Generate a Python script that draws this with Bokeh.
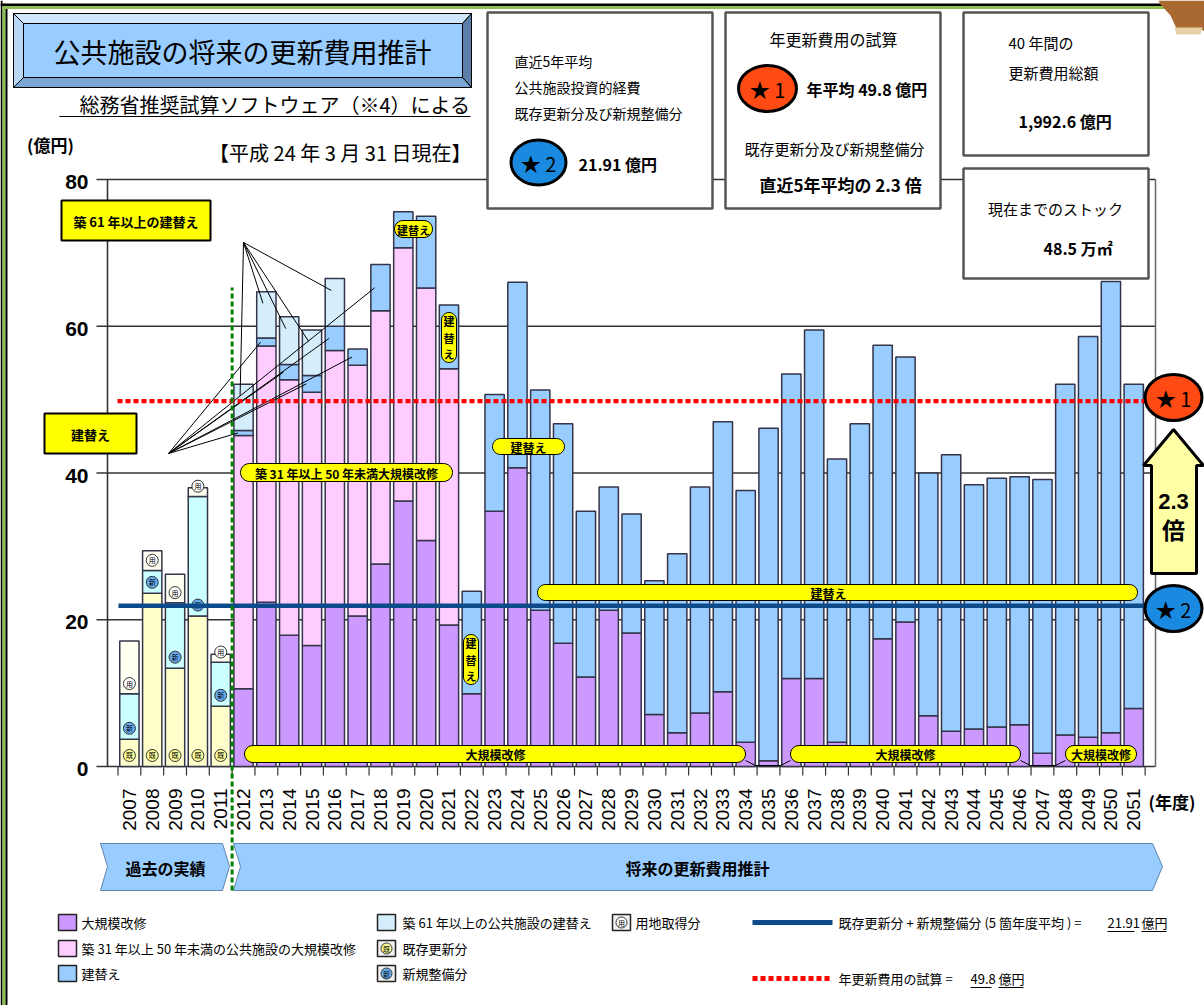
from math import cos, sin, radians, pi
import numpy as np
from bokeh.plotting import figure
from bokeh.models import Range1d
from bokeh.core.properties import value
from bokeh.embed import file_html
from bokeh.resources import INLINE

# ---------------- data (億円) ----------------
past_years = [2007, 2008, 2009, 2010, 2011]
past_existing = [3.7, 23.6, 13.4, 20.5, 8.2]      # 既存更新分
past_new = [6.2, 3.1, 8.9, 16.3, 6.0]             # 新規整備分
past_land = [7.2, 2.7, 3.9, 1.2, 1.1]             # 用地取得分

future_years = list(range(2012, 2052))
major_repair = [10.6, 22.4, 17.9, 16.5, 22.0, 20.5, 27.6, 36.2, 30.8, 19.3,
                9.9, 34.8, 40.7, 21.3, 16.8, 12.2, 21.3, 18.2, 7.1, 4.6,
                7.3, 10.2, 3.3, 0.8, 12.0, 12.0, 3.3, 1.5, 17.4, 19.7,
                6.9, 4.8, 5.1, 5.4, 5.7, 1.8, 4.3, 4.0, 4.6, 7.9]      # 大規模改修
repair_31_50 = [34.5, 34.9, 34.8, 34.5, 34.7, 34.2, 34.5, 34.5, 34.4, 34.9] + [0.0] * 30  # 築31年以上50年未満
rebuild = [0.7, 1.1, 2.1, 2.3, 3.3, 2.2, 6.3, 4.9, 9.8, 8.7,
           14.0, 15.9, 25.3, 30.0, 29.9, 22.6, 16.8, 16.2, 18.2, 24.4,
           30.8, 36.8, 34.3, 45.3, 41.5, 47.5, 38.6, 45.2, 40.0, 36.1,
           33.1, 37.7, 33.3, 33.9, 33.8, 37.3, 47.8, 54.6, 61.5, 44.2]   # 建替え
rebuild_61 = [6.3, 6.3, 6.5, 6.2, 6.5] + [0.0] * 35                      # 築61年以上の建替え

avg_annual = 49.8       # ★1 年更新費用の試算
recent_avg = 21.91      # ★2 直近5年平均
y_ticks = [0, 20, 40, 60, 80]

# ---------------- layout helpers ----------------
W, H = 1204, 1005
Y0_PX, PX_PER_UNIT = 766.0, 7.3375
X0_PX, PX_PER_YEAR = 128.9, 22.826
JP = "Noto Sans CJK JP"
NUM = "Liberation Sans"


def vy(ypx):
    return (Y0_PX - ypx) / PX_PER_UNIT


def yx(xpx):
    return 2007 + (xpx - X0_PX) / PX_PER_YEAR


def R(ypx):
    return H - ypx


p = figure(width=W, height=H, output_backend="svg", toolbar_location=None,
           x_range=Range1d(yx(0), yx(W)), y_range=Range1d(vy(H), vy(0)),
           x_axis_type=None, y_axis_type=None, min_border=0,
           outline_line_color=None)
p.extra_x_ranges = {"px": Range1d(0, W)}
p.extra_y_ranges = {"py": Range1d(0, H)}
p.background_fill_color = "white"
p.border_fill_color = "white"
PXK = dict(x_range_name="px", y_range_name="py")


def rect_px(x0, y0, x1, y1, fill, line="black", lw=1.0):
    p.quad(left=[x0], right=[x1], top=[R(y0)], bottom=[R(y1)],
           fill_color=fill, line_color=line, line_width=lw, **PXK)


def poly_px(pts, fill, line="black", lw=1.0):
    p.patch([q[0] for q in pts], [R(q[1]) for q in pts],
            fill_color=fill, line_color=line, line_width=lw, **PXK)


def line_px(xs, ys, color="black", lw=1.0, dash="solid"):
    p.line(xs, [R(y) for y in ys], line_color=color, line_width=lw,
           line_dash=dash, **PXK)


def text_px(x, y, s, size, bold=False, align="left", color="black", font=JP):
    p.text(x=[x], y=[R(y)], text=[s], text_font=value(font),
           text_font_size=f"{size}px",
           text_font_style="bold" if bold else "normal",
           text_align=align, text_baseline="middle", text_color=color, **PXK)


def ellipse_px(cx, cy, w, h, fill, line="black", lw=3):
    p.ellipse(x=[cx], y=[R(cy)], width=w, height=h, fill_color=fill,
              line_color=line, line_width=lw, **PXK)


def rrect_pts(x0, y0, x1, y1, r):
    pts = []
    for cx, cy, a0 in [(x1 - r, y0 + r, -90), (x1 - r, y1 - r, 0),
                       (x0 + r, y1 - r, 90), (x0 + r, y0 + r, 180)]:
        for k in range(7):
            a = radians(a0 + k * 15)
            pts.append((cx + r * cos(a), cy + r * sin(a)))
    return pts


def pill(x0, y0, x1, y1, label, size=12, tx=None):
    r = (y1 - y0) / 2
    poly_px(rrect_pts(x0, y0, x1, y1, r), "#ffff00", "black", 1)
    text_px((x0 + x1) / 2 if tx is None else tx, (y0 + y1) / 2 + 0.5, label, size,
            bold=True, align="center")


def vpill(x0, y0, x1, y1, chars, size=11):
    r = (x1 - x0) / 2
    poly_px(rrect_pts(x0, y0, x1, y1, r), "#ffff00", "black", 1)
    step = (y1 - y0) / len(chars)
    for i, ch in enumerate(chars):
        text_px((x0 + x1) / 2, y0 + step * (i + 0.5), ch, size, bold=True, align="center")


# ---------------- axes / grid ----------------
for t in y_ticks:
    p.segment(x0=[yx(96)], x1=[yx(1155)], y0=[t], y1=[t], line_color="#333333", line_width=1.6)
    p.text(x=[yx(88)], y=[t - 0.35], text=[str(t)], text_font=value(NUM),
           text_font_size="21px", text_font_style="bold", text_align="right",
           text_baseline="middle", text_color="black")
p.segment(x0=[yx(107)], x1=[yx(107)], y0=[0], y1=[80], line_color="#333333", line_width=1.6)
p.segment(x0=[yx(1155)], x1=[yx(1155)], y0=[0], y1=[80], line_color="#666666", line_width=1.5)
bounds = [y - 0.5 for y in range(2007, 2053)]
p.segment(x0=bounds, x1=bounds, y0=[0] * len(bounds), y1=[vy(775)] * len(bounds),
          line_color="#333333", line_width=1.2)

# ---------------- bars ----------------
BW = 0.845
OUT = "#34344a"
pe = np.array(past_existing)
pn = np.array(past_new)
pl = np.array(past_land)
p.vbar(x=past_years, width=BW, bottom=0, top=pe, fill_color="#ffffcc", line_color=OUT, line_width=1.5)
p.vbar(x=past_years, width=BW, bottom=pe, top=pe + pn, fill_color="#ccffff", line_color=OUT, line_width=1.5)
p.vbar(x=past_years, width=BW, bottom=pe + pn, top=pe + pn + pl, fill_color="#fffff2", line_color=OUT, line_width=1.5)

fy = np.array(future_years)
s1 = np.array(major_repair)
s2 = np.array(repair_31_50)
s3 = np.array(rebuild)
s4 = np.array(rebuild_61)
layers = [(np.zeros_like(s1), s1, "#cc99ff"),
          (s1, s1 + s2, "#ffccff"),
          (s1 + s2, s1 + s2 + s3, "#99ccff"),
          (s1 + s2 + s3, s1 + s2 + s3 + s4, "#d4eefc")]
for bot, top, col in layers:
    m = (top - bot) > 0.01
    p.vbar(x=fy[m], width=BW, bottom=bot[m], top=top[m], fill_color=col,
           line_color=OUT, line_width=1.5)

# circled icons on past bars
icon_specs = [(np.full(5, 1.5), "既", "#ffff99"),
              (pe + 1.5, "新", "#66aaee"),
              (pe + pn + 1.4, "用", "#ffffff")]
for ys, ch, col in icon_specs:
    p.scatter(x=past_years, y=ys, marker="circle", size=12, fill_color=col,
              line_color="#333333", line_width=1)
    p.text(x=past_years, y=ys, text=[ch] * 5, text_font=value(JP), text_font_size="7px",
           text_align="center", text_baseline="middle", text_color="black")

# ---------------- callout lines ----------------
ox1, oy1 = yx(243), vy(242)
for i in range(5):
    ex = future_years[i] - 0.15
    ey = (s1 + s2 + s3)[i] + 0.75 * s4[i]
    p.segment(x0=[ox1], y0=[oy1], x1=[ex], y1=[ey], line_color="black", line_width=1)
ox2, oy2 = yx(168), vy(453)
for i in range(7):
    ex = future_years[i] - 0.25
    ey = (s1 + s2)[i] + 0.5 * s3[i]
    p.segment(x0=[ox2], y0=[oy2], x1=[ex], y1=[ey], line_color="black", line_width=1)

# ---------------- reference lines ----------------
p.line([yx(118), yx(1148)], [recent_avg, recent_avg], line_color="#0d4a8a", line_width=4.5)
p.line([yx(117), yx(1148)], [avg_annual, avg_annual], line_color="#ff0000", line_width=4.3, line_dash="5 3")

# ---------------- yellow labels ----------------
rect_px(61, 200, 210, 240, "#ffff00", "black", 2)
text_px(135.5, 220.5, "築 61 年以上の建替え", 13, bold=True, align="center")
rect_px(44, 413, 136, 453, "#ffff00", "black", 2)
text_px(90, 433.5, "建替え", 13, bold=True, align="center")

pill(240, 463, 452, 481, "築 31 年以上 50 年未満大規模改修", 12)
line_px([745, 755, 780, 790], [760, 765, 765, 760], "black", 1)
line_px([1020, 1030, 1055, 1065], [760, 765, 765, 760], "black", 1)
pill(244, 745, 745, 762, "大規模改修", 12, tx=495)
pill(790, 745, 1020, 762, "大規模改修", 12, tx=905)
pill(1065, 745, 1136, 762, "大規模改修", 12)
pill(537, 584, 1137, 600, "建替え", 12, tx=828)
pill(492, 438, 564, 454, "建替え", 12)
pill(394, 220, 432, 237, "建替え", 11)
vpill(441, 312, 456, 362, ["建", "替", "え"], 11)
vpill(463, 634, 478, 684, ["建", "替", "え"], 11)

# ---------------- right side markers ----------------
poly_px([(1173, 429), (1203, 465), (1196, 465), (1196, 573), (1151, 573), (1151, 465), (1143, 465)],
        "#ffffa6", "black", 3)
text_px(1173, 501, "2.3", 22, bold=True, align="center", font="Liberation Sans")
text_px(1173, 528, "倍", 23, bold=True, align="center")
ellipse_px(1173, 397, 57, 46, "#ff4a14")
text_px(1173, 398, "★ 1", 20, align="center")
ellipse_px(1173, 608, 57, 46, "#1a8ae0")
text_px(1173, 609, "★ 2", 20, align="center")

# ---------------- title area ----------------
poly_px([(13, 13), (471, 13), (462, 23), (23, 23)], "#cfe6fd", "black", 1)
poly_px([(13, 13), (23, 23), (23, 77), (13, 87)], "#b8d8f6", "black", 1)
poly_px([(471, 13), (471, 87), (462, 77), (462, 23)], "#5b7fa8", "black", 1)
poly_px([(13, 87), (471, 87), (462, 77), (23, 77)], "#7aa6d4", "black", 1)
rect_px(23, 23, 462, 77, "#99ccff", "black", 1)
text_px(242, 51, "公共施設の将来の更新費用推計", 27, align="center")
text_px(470, 104, "総務省推奨試算ソフトウェア（※4）による", 20, align="right")
line_px([59, 470], [116, 116], "black", 1.2)
text_px(50, 144, "(億円)", 17, bold=True, align="center")
text_px(471, 152, "【平成 24 年 3 月 31 日現在】", 20, align="right")

# box A
rect_px(487, 12, 712, 208, "white", "#555555", 2.5)
text_px(514, 60, "直近5年平均", 14)
text_px(514, 86, "公共施設投資的経費", 14)
text_px(514, 112, "既存更新分及び新規整備分", 14)
ellipse_px(538, 162, 55, 45, "#1a8ae0")
text_px(538, 163, "★ 2", 20, align="center")
text_px(578, 163, "21.91 億円", 16, bold=True)
# box B
rect_px(725, 12, 940, 208, "white", "#555555", 2.5)
text_px(833, 38, "年更新費用の試算", 16, align="center")
ellipse_px(767, 88, 58, 46, "#ff4a14")
text_px(767, 89, "★ 1", 20, align="center")
text_px(806, 88, "年平均  49.8 億円", 16, bold=True)
text_px(834, 148, "既存更新分及び新規整備分", 15, align="center")
text_px(842, 184, "直近5年平均の  2.3 倍", 17, bold=True, align="center")
# box C
rect_px(963, 12, 1148, 155, "white", "#555555", 2.5)
text_px(1008, 42, "40 年間の", 15)
text_px(1008, 72, "更新費用総額", 15)
text_px(1018, 120, "1,992.6 億円", 16, bold=True)
# box D
rect_px(963, 168, 1148, 278, "white", "#555555", 2.5)
text_px(1055, 208, "現在までのストック", 15, align="center")
text_px(1043, 247, "48.5 万㎡", 16, bold=True)

# ---------------- x labels ----------------
all_years = past_years + future_years
p.text(x=all_years, y=[vy(788)] * len(all_years), text=[str(y) for y in all_years],
       angle=pi / 2, text_font=value("Liberation Sans"), text_font_size="19px",
       text_align="right", text_baseline="middle", text_color="black")
text_px(1148, 801, "(年度)", 17, bold=True)

# chevrons
poly_px([(100, 843), (222, 843), (229, 866), (222, 890), (100, 890), (107, 866)], "#99ccff", "#5f86b0", 1)
poly_px([(233, 843), (1152, 843), (1162, 866), (1152, 890), (233, 890), (240, 866)], "#99ccff", "#5f86b0", 1)
text_px(165, 867, "過去の実績", 16, bold=True, align="center")
text_px(697, 867, "将来の更新費用推計", 16, bold=True, align="center")

# green divider
p.line([2011.5, 2011.5], [vy(890), vy(287)], line_color="#008000", line_width=3, line_dash="5 3")

# ---------------- legend ----------------
def swatch(x, y, col):
    rect_px(x, y - 8, x + 18, y + 8, col, "#222222", 1.5)


def icon(x, y, ch, col):
    rect_px(x, y - 8, x + 18, y + 8, "#f2f2f2", "#222222", 1.5)
    ellipse_px(x + 9, y, 11, 11, col, "#333333", 1)
    text_px(x + 9, y + 0.5, ch, 7, align="center")


LG = 13
swatch(58, 922, "#cc99ff"); text_px(81, 922, "大規模改修", LG)
swatch(58, 948, "#ffccff"); text_px(81, 948, "築 31 年以上 50 年未満の公共施設の大規模改修", LG)
swatch(58, 973, "#99ccff"); text_px(81, 973, "建替え", LG)
swatch(377, 922, "#d4eefc"); text_px(402, 922, "築 61 年以上の公共施設の建替え", LG)
icon(612, 922, "用", "#ffffff"); text_px(635, 922, "用地取得分", LG)
icon(377, 948, "既", "#ffff99"); text_px(402, 948, "既存更新分", LG)
icon(377, 973, "新", "#66aaee"); text_px(402, 973, "新規整備分", LG)

line_px([752, 832], [922, 922], "#0d4a8a", 5)
text_px(838, 922, "既存更新分 + 新規整備分 (5 箇年度平均 ) =", LG)
text_px(1107, 922, "21.91", LG)
text_px(1141, 922, "億円", LG)
line_px([1107, 1134], [931, 931], "black", 1)
line_px([1141, 1166], [931, 931], "black", 1)
line_px([752, 832], [978, 978], "#ff0000", 5, "5 3")
text_px(838, 978, "年更新費用の試算  =", LG)
text_px(970, 978, "49.8", LG)
text_px(998, 978, "億円", LG)
line_px([970, 991], [987, 987], "black", 1)
line_px([998, 1023], [987, 987], "black", 1)

# ---------------- outer frame & decoration ----------------
rect_px(0, 0, 2, H, "black", None, 0)
rect_px(2, 3, 5, H, "#8cc050", None, 0)
rect_px(5, 8, 7, H, "black", None, 0)
rect_px(0, 3, 1165, 5.5, "black", None, 0)
rect_px(2, 5.5, 1165, 8.5, "#8cc050", None, 0)
poly_px([(1158, 0), (1204, 0), (1204, 31), (1200, 28), (1176, 28), (1170, 15), (1160, 4)], "#a86a30", None, 0)
poly_px([(1174, 27), (1202, 27), (1200, 34), (1176, 34)], "#e8d0a8", None, 0)

open("out.html", "w").write(file_html(p, INLINE))
